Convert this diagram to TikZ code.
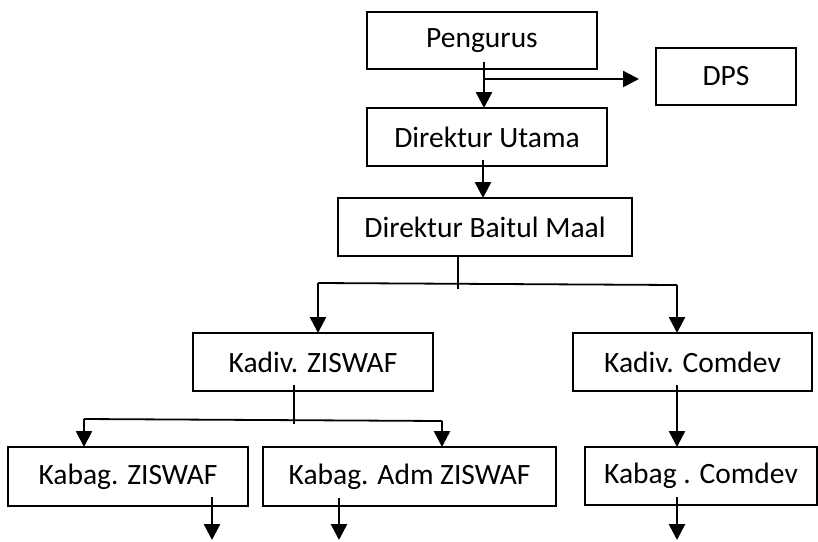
\documentclass[tikz,border=0pt]{standalone}
\usepackage{fontspec}
\setmainfont{Carlito}
\usetikzlibrary{arrows.meta}
\begin{document}
\begin{tikzpicture}[x=1pt,y=-1pt,
  box/.style={draw, line width=2pt, inner sep=0pt, outer sep=0pt, font=\fontsize{29.5}{34}\selectfont},
  arr/.style={line width=2.6pt, -{Triangle[length=16pt,width=16pt]}},
  ln/.style={line width=1.8pt},
  thinln/.style={line width=1.2pt}]
\useasboundingbox (0,0) rectangle (818,541);
% boxes
\node[box, minimum width=230pt, minimum height=57pt] (pg) at (482,40.5) {Pengurus};
\node[box, minimum width=140pt, minimum height=57pt] (dps) at (726,76.5) {DPS};
\node[box, minimum width=240pt, minimum height=58pt] (du) at (487,137) {Direktur Utama};
\node[box, minimum width=294pt, minimum height=58pt] (dbm) at (485,227) {Direktur Baitul Maal};
\node[box, minimum width=240pt, minimum height=58pt] (kz) at (313,362) {Kadiv. ZISWAF};
\node[box, minimum width=239pt, minimum height=58pt] (kc) at (692.5,362) {Kadiv. Comdev};
\node[box, minimum width=240pt, minimum height=59pt] (bz) at (128,476.5) {Kabag. ZISWAF};
\node[box, minimum width=293pt, minimum height=59pt] (ba) at (409.5,476.5) {Kabag. Adm ZISWAF};
\node[box, minimum width=232pt, minimum height=58pt] (bc) at (701,476) {Kabag . Comdev};
% Pengurus connectors
\coordinate (a1) at (484,62);
\draw[arr] (a1) -- (a1 |- du.north);
\coordinate (a2) at (484,79);
\coordinate (a2e) at (639,79);
\draw[arr] (a2) -- (a2e);
% Direktur Utama -> Direktur Baitul Maal
\coordinate (a3) at (483,160);
\draw[arr] (a3) -- (a3 |- dbm.north);
% Direktur Baitul Maal -> Kadiv
\coordinate (b1) at (458,289);
\draw[ln] (b1 |- dbm.south) -- (b1);
\coordinate (hL) at (318,283);
\coordinate (hR) at (677,285);
\draw[ln] (hL) -- (hR);
\draw[arr] (hL) -- (hL |- kz.north);
\draw[arr] (hR) -- (hR |- kc.north);
% Kadiv ZISWAF -> Kabag
\coordinate (c0) at (294,385);
\coordinate (c1) at (294,424);
\draw[thinln] (c0) -- (c1);
\coordinate (gL) at (84,419);
\coordinate (gR) at (442,421);
\draw[ln] (gL) -- (gR);
\draw[arr] (gL) -- (gL |- bz.north);
\draw[arr] (gR) -- (gR |- ba.north);
% Kadiv Comdev -> Kabag Comdev
\coordinate (d0) at (677,385);
\draw[arr] (d0) -- (d0 |- bc.north);
% bottom arrows
\coordinate (e1) at (212,497);
\coordinate (e1e) at (212,540);
\draw[arr] (e1) -- (e1e);
\coordinate (e2) at (339,498);
\coordinate (e2e) at (339,540);
\draw[arr] (e2) -- (e2e);
\coordinate (e3) at (677,497);
\coordinate (e3e) at (677,540);
\draw[arr] (e3) -- (e3e);
\end{tikzpicture}
\end{document}
